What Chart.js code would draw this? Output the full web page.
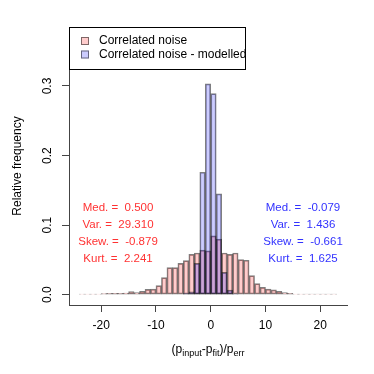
<!DOCTYPE html>
<html>
<head>
<meta charset="utf-8">
<script src="https://cdn.jsdelivr.net/npm/chart.js@4/dist/chart.umd.min.js"></script>
<style>
  html, body { margin: 0; padding: 0; background: #fff; }
  #wrap { width: 374px; height: 374px; }
</style>
</head>
<body>
<div id="wrap"><canvas id="histChart" width="374" height="374"></canvas></div>
<script>
// ============ DATA ============

// bin centres (unit-width bins from -24 to 23)
const binCentres = [-23.5, -22.5, -21.5, -20.5, -19.5, -18.5, -17.5, -16.5, -15.5, -14.5,
    -13.5, -12.5, -11.5, -10.5, -9.5, -8.5, -7.5, -6.5, -5.5, -4.5, -3.5, -2.5, -1.5, -0.5,
    0.5, 1.5, 2.5, 3.5, 4.5, 5.5, 6.5, 7.5, 8.5, 9.5, 10.5, 11.5, 12.5, 13.5, 14.5, 15.5,
    16.5, 17.5, 18.5, 19.5, 20.5, 21.5, 22.5];

const noiseFreq = [0.001, 0.001, 0.001, 0.001, 0.0015, 0.002, 0.002, 0.002, 0.0025, 0.0045,
    0.003, 0.005, 0.0077, 0.008, 0.013, 0.0245, 0.039, 0.039, 0.045, 0.049, 0.058, 0.06, 0.064, 0.063,
    0.0846, 0.08, 0.06, 0.058, 0.06, 0.0505, 0.0495, 0.0274, 0.016, 0.0106, 0.008, 0.007,
    0.005, 0.003, 0.002, 0.001, 0.001, 0.0007, 0.0007, 0.0007, 0.0007, 0.0007, 0.0007];

const modelledFreq = [null, null, null, null, null, null, null, null, null, null,
    null, null, null, null, null, null, null, null, 0, 0.0015, 0.004, 0.045, 0.176, 0.303,
    0.289, 0.145, 0.032, 0.0065, 0.001, 0, null, null, null, null, null, null,
    null, null, null, null, null, null, null, null, null, null, null];

const seriesNames = ['Correlated noise', 'Correlated noise - modelled'];
const xTicks = [-20, -10, 0, 10, 20];
const yTicks = [0, 0.1, 0.2, 0.3];
const yTickLabels = ['0.0', '0.1', '0.2', '0.3'];

const noiseStats = ['Med. =  0.500', 'Var. =  29.310', 'Skew. =  -0.879', 'Kurt. =  2.241'];
const modelledStats = ['Med. =  -0.079', 'Var. =  1.436', 'Skew. =  -0.661', 'Kurt. =  1.625'];

// ============ CHART ============

const FONT = '"Liberation Sans", Arial, Helvetica, sans-serif';
const pinkFill = 'rgba(255,0,0,0.2)';
const blueFill = 'rgba(0,0,255,0.2)';
const barEdge = 'rgba(0,0,0,0.5)';

function toPoints(values) {
    return binCentres.map((x, i) => ({ x: x, y: values[i] }));
}

const overlayPlugin = {
    id: 'overlay',
    afterDraw(chart) {
        const ctx = chart.ctx;
        const area = chart.chartArea;
        const ys = chart.scales.y;
        const xs = chart.scales.x;
        ctx.save();

        // rotated y tick labels
        ctx.fillStyle = '#000';
        ctx.font = '12px ' + FONT;
        ctx.textAlign = 'center';
        ctx.textBaseline = 'middle';
        yTicks.forEach((v, i) => {
            ctx.save();
            ctx.translate(48, ys.getPixelForValue(v));
            ctx.rotate(-Math.PI / 2);
            ctx.fillText(yTickLabels[i], 0, 0);
            ctx.restore();
        });

        // y title
        ctx.save();
        ctx.translate(18, (area.top + area.bottom) / 2);
        ctx.rotate(-Math.PI / 2);
        ctx.fillText('Relative frequency', 0, 0);
        ctx.restore();

        // x title with subscripts
        const parts = [['(p', false], ['input', true], ['-p', false], ['fit', true], [')/p', false], ['err', true]];
        let total = 0;
        parts.forEach(p => {
            ctx.font = (p[1] ? '9px ' : '12px ') + FONT;
            total += ctx.measureText(p[0]).width;
        });
        let xx = (area.left + area.right) / 2 - total / 2;
        ctx.textAlign = 'left';
        ctx.textBaseline = 'alphabetic';
        parts.forEach(p => {
            ctx.font = (p[1] ? '9px ' : '12px ') + FONT;
            ctx.fillText(p[0], xx, p[1] ? 356 : 353);
            xx += ctx.measureText(p[0]).width;
        });

        // legend box
        ctx.fillStyle = '#fff';
        ctx.fillRect(area.left, area.top, 176, 42);
        ctx.strokeStyle = '#000';
        ctx.lineWidth = 1;
        ctx.strokeRect(area.left + 0.5, area.top + 0.5, 176, 42);
        const fills = [pinkFill, blueFill];
        ctx.font = '12px ' + FONT;
        ctx.textBaseline = 'middle';
        seriesNames.forEach((name, i) => {
            const cy = area.top + 14 + i * 13.5;
            ctx.fillStyle = fills[i];
            ctx.fillRect(81, cy - 4, 8, 8);
            ctx.strokeStyle = 'rgba(0,0,0,0.5)';
            ctx.strokeRect(81.5, cy - 3.5, 7, 7);
            ctx.fillStyle = '#000';
            ctx.fillText(name, 99, cy);
        });

        // statistics
        ctx.textAlign = 'center';
        ctx.font = '11.5px ' + FONT;
        noiseStats.forEach((s, i) => {
            ctx.fillStyle = 'rgb(255,50,50)';
            ctx.fillText(s, 118, 208 + i * 17);
        });
        modelledStats.forEach((s, i) => {
            ctx.fillStyle = 'rgb(50,50,255)';
            ctx.fillText(s, 303, 208 + i * 17);
        });
        ctx.restore();
    }
};

new Chart(document.getElementById('histChart'), {
    type: 'bar',
    data: {
        datasets: [
            {
                label: seriesNames[0],
                data: toPoints(noiseFreq),
                backgroundColor: pinkFill,
                borderColor: barEdge,
                borderWidth: 1,
                borderSkipped: false,
                grouped: false,
                barPercentage: 1,
                categoryPercentage: 1,
                order: 2,
            },
            {
                label: seriesNames[1],
                data: toPoints(modelledFreq),
                backgroundColor: blueFill,
                borderColor: barEdge,
                borderWidth: 1,
                borderSkipped: false,
                grouped: false,
                barPercentage: 1,
                categoryPercentage: 1,
                order: 1,
            }
        ]
    },
    options: {
        responsive: false,
        animation: false,
        events: [],
        layout: { padding: { left: 0, top: 27, right: 27, bottom: 0 } },
        plugins: {
            legend: { display: false },
            tooltip: { enabled: false }
        },
        scales: {
            x: {
                type: 'linear',
                min: -25.88,
                max: 24.88,
                offset: false,
                afterBuildTicks: s => { s.ticks = xTicks.map(v => ({ value: v })); },
                afterFit: s => { s.height = 69; },
                ticks: {
                    color: '#000',
                    font: { family: FONT, size: 12 },
                    padding: 6,
                    maxRotation: 0,
                    callback: v => String(v)
                },
                grid: { drawOnChartArea: false, drawTicks: true, tickLength: 7, offset: false, color: '#444' },
                border: { display: true, color: '#444', width: 1 }
            },
            y: {
                min: -0.0148,
                max: 0.3848,
                afterBuildTicks: s => { s.ticks = yTicks.map(v => ({ value: v })); },
                afterFit: s => { s.width = 69; },
                ticks: { display: false },
                grid: { drawOnChartArea: false, drawTicks: true, tickLength: 7, color: '#444' },
                border: { display: true, color: '#444', width: 1 }
            }
        }
    },
    plugins: [overlayPlugin]
});
</script>
</body>
</html>
